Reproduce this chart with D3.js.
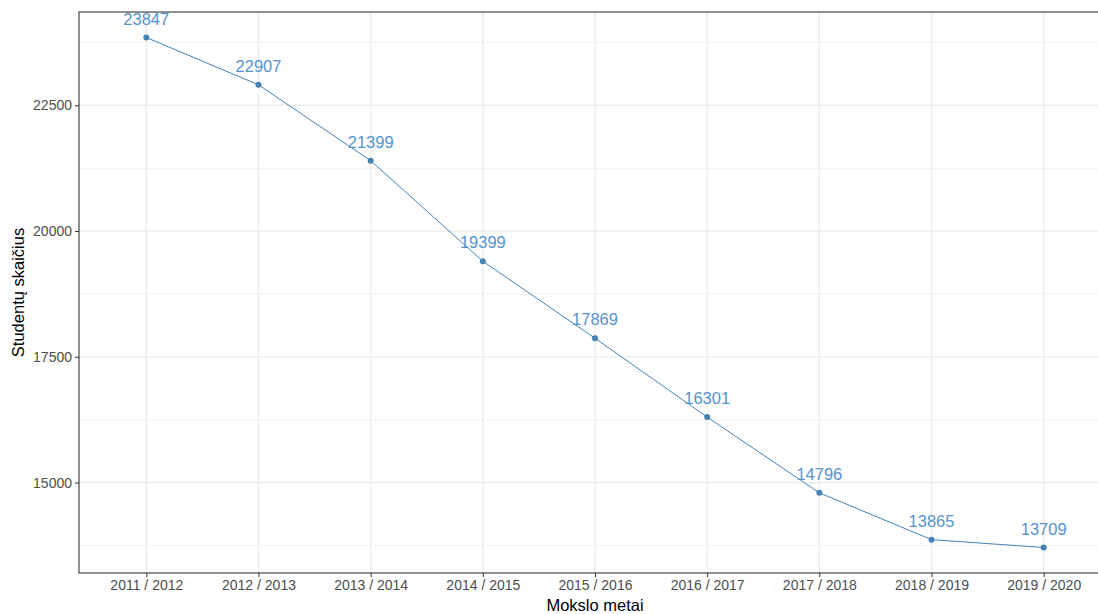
<!DOCTYPE html>
<html>
<head>
<meta charset="utf-8">
<script src="https://cdn.jsdelivr.net/npm/d3@7"></script>
<style>
  body { margin: 0; background: #fff; }
  svg { display: block; font-family: "Liberation Sans", Arial, sans-serif; }
</style>
</head>
<body>
<div id="chart"></div>
<script>
// data
const years = ["2011 / 2012", "2012 / 2013", "2013 / 2014", "2014 / 2015", "2015 / 2016",
               "2016 / 2017", "2017 / 2018", "2018 / 2019", "2019 / 2020"];
const students = [23847, 22907, 21399, 19399, 17869, 16301, 14796, 13865, 13709];
const yTicks = [15000, 17500, 20000, 22500];
const yMinor = [13750, 16250, 18750, 21250, 23750];

const width = 1098, height = 614;
// panel runs past the right edge of the picture (the original was cropped)
const panel = { left: 79, top: 12, right: 1111, bottom: 573 };

let svg = d3.select("#chart")
    .append("svg")
    .attr("width", width)
    .attr("height", height);

// discrete x with ggplot-like 0.6 expansion
let step = (panel.right - panel.left) / (years.length - 1 + 1.2);
let x = d3.scalePoint()
    .domain(years)
    .range([panel.left + 0.6 * step, panel.right - 0.6 * step]);

// 5% expansion on y
let lo = d3.min(students), hi = d3.max(students);
let pad = (hi - lo) * 0.05;
let y = d3.scaleLinear()
    .domain([lo - pad, hi + pad])
    .range([panel.bottom, panel.top]);

svg.append("clipPath").attr("id", "clip")
    .append("rect")
    .attr("x", panel.left).attr("y", panel.top)
    .attr("width", panel.right - panel.left)
    .attr("height", panel.bottom - panel.top);

let grid = svg.append("g");

// minor gridlines
grid.selectAll("line.minor").data(yMinor).enter()
    .append("line")
    .attr("x1", panel.left).attr("x2", panel.right)
    .attr("y1", d => y(d)).attr("y2", d => y(d))
    .attr("stroke", "#f2f2f2")
    .attr("stroke-width", 1);

// major gridlines
grid.selectAll("line.major").data(yTicks).enter()
    .append("line")
    .attr("x1", panel.left).attr("x2", panel.right)
    .attr("y1", d => y(d)).attr("y2", d => y(d))
    .attr("stroke", "#ebebeb")
    .attr("stroke-width", 1.3);

grid.selectAll("line.vert").data(years).enter()
    .append("line")
    .attr("x1", d => x(d)).attr("x2", d => x(d))
    .attr("y1", panel.top).attr("y2", panel.bottom)
    .attr("stroke", "#ebebeb")
    .attr("stroke-width", 1.3);

let plot = svg.append("g").attr("clip-path", "url(#clip)");

let line = d3.line()
    .x((d, i) => x(years[i]))
    .y(d => y(d));

plot.append("path")
    .datum(students)
    .attr("d", line)
    .attr("fill", "none")
    .attr("stroke", "#4682b4")
    .attr("stroke-width", 1);

plot.selectAll("circle").data(students).enter()
    .append("circle")
    .attr("cx", (d, i) => x(years[i]))
    .attr("cy", d => y(d))
    .attr("r", 3)
    .attr("fill", "#4682b4");

// value labels
plot.selectAll("text").data(students).enter()
    .append("text")
    .attr("x", (d, i) => x(years[i]))
    .attr("y", d => y(d) - 13)
    .attr("text-anchor", "middle")
    .style("font-size", "16.5px")
    .attr("fill", "#5593cc")
    .text(d => d);

// panel border
svg.append("rect")
    .attr("x", panel.left).attr("y", panel.top)
    .attr("width", panel.right - panel.left)
    .attr("height", panel.bottom - panel.top)
    .attr("fill", "none")
    .attr("stroke", "#333333")
    .attr("stroke-width", 1.1);

// y axis
let yAxis = svg.append("g")
    .attr("transform", `translate(${panel.left}, 0)`)
    .call(d3.axisLeft(y).tickValues(yTicks).tickSize(4).tickPadding(3).tickFormat(d3.format("d")));
yAxis.select(".domain").remove();
yAxis.selectAll("line").attr("stroke", "#333333");
yAxis.selectAll("text")
    .attr("fill", "#4d4d4d")
    .style("font-size", "14px")
    .style("font-family", "Liberation Sans, Arial, sans-serif");

// x axis
let xAxis = svg.append("g")
    .attr("transform", `translate(0, ${panel.bottom})`)
    .call(d3.axisBottom(x).tickSize(4).tickPadding(3));
xAxis.select(".domain").remove();
xAxis.selectAll("line").attr("stroke", "#333333");
xAxis.selectAll("text")
    .attr("fill", "#4d4d4d")
    .style("font-size", "14px")
    .style("font-family", "Liberation Sans, Arial, sans-serif");

// axis titles
svg.append("text")
    .attr("x", (panel.left + panel.right) / 2)
    .attr("y", 611)
    .attr("text-anchor", "middle")
    .style("font-size", "16.5px")
    .attr("fill", "#000")
    .text("Mokslo metai");

svg.append("text")
    .attr("transform", `translate(24, ${(panel.top + panel.bottom) / 2}) rotate(-90)`)
    .attr("text-anchor", "middle")
    .style("font-size", "16.5px")
    .attr("fill", "#000")
    .text("Studentų skaičius");
</script>
</body>
</html>
